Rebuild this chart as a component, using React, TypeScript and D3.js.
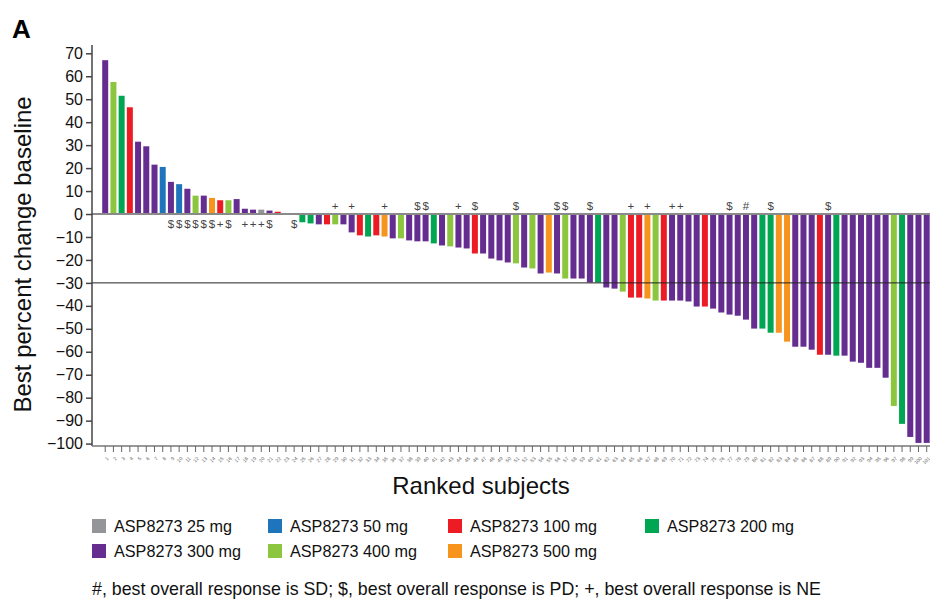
import { useEffect, useRef } from "react";
import * as d3 from "d3";

// best % change from baseline, ranked subjects 1..101
const bestChange = [
  67, 57.5, 51.5, 46.5, 31.5, 29.5, 21.5, 20.5, 14, 13,
  11, 8, 8, 7, 6, 6, 6.5, 2.3, 1.9, 1.9,
  1.5, 1, 0, 0, -3.6, -4.1, -4.5, -4.5, -4.5, -4.5,
  -8, -9.3, -9.8, -9.3, -9.8, -10.6, -10.6, -11.5, -11.9, -11.9,
  -12.8, -13.7, -14.1, -14.6, -15, -17.2, -17.2, -19.4, -20.2, -21.1,
  -21.5, -23.3, -23.7, -25.9, -25.5, -25.9, -28.1, -28.1, -28.1, -29.8,
  -29.8, -32, -32.5, -33.8, -36.4, -36.4, -36.8, -37.7, -37.7, -37.7,
  -37.7, -38.1, -40.3, -40.3, -41.2, -42.9, -43.8, -44.3, -46, -49.9,
  -49.9, -51.7, -51.7, -55.6, -57.8, -57.8, -59.1, -61.3, -61.3, -61.7,
  -61.7, -64.3, -64.8, -67, -67, -71.3, -83.6, -91.4, -97.1, -99.7,
  -99.7,
];

// dose (mg) for each subject, same order
const doseMg = [
  300, 400, 200, 100, 300, 300, 300, 50, 300, 50,
  300, 400, 300, 500, 100, 400, 300, 300, 300, 25,
  300, 100, 300, 300, 200, 200, 300, 100, 400, 300,
  300, 100, 200, 100, 500, 300, 400, 300, 300, 300,
  200, 300, 400, 300, 300, 100, 300, 300, 300, 300,
  400, 300, 400, 300, 500, 300, 400, 300, 300, 300,
  200, 300, 300, 400, 100, 100, 500, 400, 100, 300,
  300, 300, 300, 100, 300, 300, 300, 300, 300, 300,
  200, 200, 500, 500, 300, 300, 300, 100, 300, 200,
  300, 300, 300, 300, 300, 300, 400, 200, 300, 300,
  300,
];

// best overall response markers: [subject, symbol]
const responseMarks: [number, string][] = [
  [9, "$"], [10, "$"], [11, "$"], [12, "$"], [13, "$"], [14, "$"], [15, "+"], [16, "$"],
  [18, "+"], [19, "+"], [20, "+"], [21, "$"], [24, "$"],
  [29, "+"], [31, "+"], [35, "+"], [39, "$"], [40, "$"], [44, "+"], [46, "$"],
  [51, "$"], [56, "$"], [57, "$"], [60, "$"], [65, "+"], [67, "+"], [70, "+"], [71, "+"],
  [77, "$"], [79, "#"], [82, "$"], [89, "$"],
];

const doseLevels = [25, 50, 100, 200, 300, 400, 500];
const doseColors = ["#939598", "#1f75bc", "#ed1c24", "#00a651", "#652d90", "#8cc63f", "#f7941d"];

const yTicks = [70, 60, 50, 40, 30, 20, 10, 0, -10, -20, -30, -40, -50, -60, -70, -80, -90, -100];

const footnote =
  "#, best overall response is SD; $, best overall response is PD; +, best overall response is NE";

const W = 930;
const H = 599;
const FONT = "'Liberation Sans', Arial, sans-serif";

const WaterfallChart = () => {
  const svgRef = useRef<SVGSVGElement>(null);

  useEffect(() => {
    const svg = d3.select(svgRef.current);
    svg.selectAll("*").remove();

    const subjects = bestChange.map((_, i) => String(i + 1));
    const x = d3.scaleBand().domain(subjects).range([98.1, 933.8]).paddingInner(0.27).paddingOuter(0.5);
    const y = d3.scaleLinear().domain([-100, 70]).range([443.6, 53.3]);
    const color = d3.scaleOrdinal<number, string>().domain(doseLevels).range(doseColors);

    // panel letter
    svg.append("text")
      .attr("x", 12).attr("y", 38)
      .attr("font-family", FONT).attr("font-size", 26).attr("font-weight", "bold")
      .text("A");

    // bars
    svg.append("g").selectAll("rect")
      .data(bestChange)
      .enter()
      .append("rect")
      .attr("x", (_, i) => x(subjects[i])!)
      .attr("width", x.bandwidth())
      .attr("y", (d) => y(Math.max(0, d)))
      .attr("height", (d) => Math.abs(y(d) - y(0)))
      .attr("fill", (_, i) => color(doseMg[i]));

    // zero line and -30% line
    svg.append("line")
      .attr("x1", 92).attr("x2", W)
      .attr("y1", y(0)).attr("y2", y(0))
      .attr("stroke", "#8a8a8a").attr("stroke-width", 2);
    svg.append("line")
      .attr("x1", 92).attr("x2", W)
      .attr("y1", y(-30)).attr("y2", y(-30))
      .attr("stroke", "#222").attr("stroke-width", 1);

    // response markers
    svg.append("g").selectAll("text")
      .data(responseMarks)
      .enter()
      .append("text")
      .attr("x", (d) => x(String(d[0]))! + x.bandwidth() / 2)
      .attr("y", (d) => (bestChange[d[0] - 1] > 0 || d[0] === 24 ? y(0) + 14 : y(0) - 4))
      .attr("text-anchor", "middle")
      .attr("font-family", FONT).attr("font-size", 11.5).attr("fill", "#444")
      .text((d) => d[1]);

    // y axis
    const yAxis = d3.axisLeft(y).tickValues(yTicks).tickSize(6).tickPadding(3);
    const yg = svg.append("g").attr("transform", "translate(92,0)").call(yAxis);
    yg.select(".domain").attr("d", `M0,45V${y(-100) + 2.4}`).attr("stroke", "#444").attr("stroke-width", 1.5);
    yg.selectAll("line").attr("stroke", "#444").attr("stroke-width", 1.5);
    yg.selectAll("text").attr("font-family", FONT).attr("font-size", 16).attr("fill", "#111");

    // x axis with tiny rotated subject numbers
    const xAxis = d3.axisBottom(x).tickSize(6).tickPadding(2);
    const xg = svg.append("g").attr("transform", `translate(0,${y(-100) + 2.4})`).call(xAxis);
    xg.select(".domain").attr("d", `M92,0H${W}`).attr("stroke", "#777").attr("stroke-width", 1.5);
    xg.selectAll("line").attr("stroke", "#666");
    xg.selectAll("text")
      .attr("font-family", FONT).attr("font-size", 5).attr("fill", "#666")
      .attr("text-anchor", "end")
      .attr("dy", "0.3em")
      .attr("transform", "translate(-3,6) rotate(-45)");

    // axis titles
    svg.append("text")
      .attr("transform", `translate(31,${(y(70) + y(-100)) / 2 + 6}) rotate(-90)`)
      .attr("text-anchor", "middle")
      .attr("font-family", FONT).attr("font-size", 24).attr("fill", "#111")
      .text("Best percent change baseline");
    svg.append("text")
      .attr("x", 481).attr("y", 494)
      .attr("text-anchor", "middle")
      .attr("font-family", FONT).attr("font-size", 24).attr("fill", "#111")
      .text("Ranked subjects");

    // legend
    const legendX = [92, 268, 448, 645];
    const legend = svg.append("g").selectAll("g")
      .data(doseLevels)
      .enter()
      .append("g")
      .attr("transform", (_, i) => `translate(${legendX[i % 4]},${519 + Math.floor(i / 4) * 25})`);
    legend.append("rect").attr("width", 14).attr("height", 14).attr("fill", (d) => color(d));
    legend.append("text")
      .attr("x", 22).attr("y", 12.5)
      .attr("font-family", FONT).attr("font-size", 16.2).attr("fill", "#111")
      .text((d) => `ASP8273 ${d} mg`);

    svg.append("text")
      .attr("x", 92).attr("y", 595)
      .attr("font-family", FONT).attr("font-size", 17.8).attr("fill", "#111")
      .text(footnote);
  }, []);

  return (
    <svg
      ref={svgRef}
      width={W}
      height={H}
      viewBox={`0 0 ${W} ${H}`}
      style={{ position: "absolute", left: 0, top: 0, background: "#fff" }}
    />
  );
};

export default function App() {
  return <WaterfallChart />;
}
